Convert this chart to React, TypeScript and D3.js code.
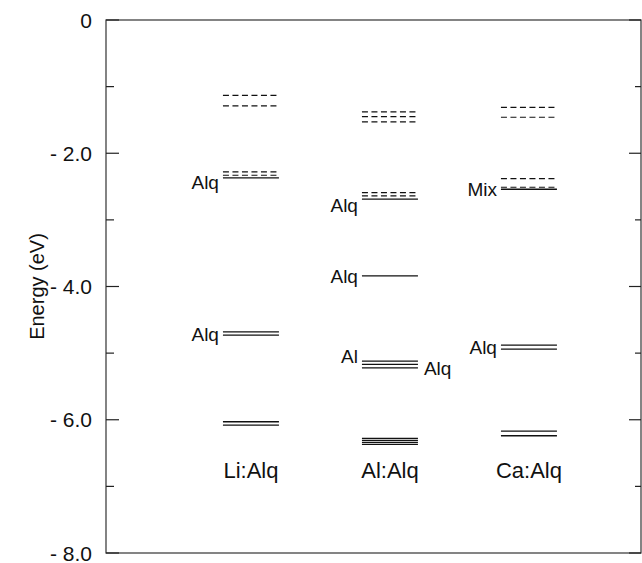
import * as d3 from "d3";

// energy levels (eV)
const columns = ["Li:Alq", "Al:Alq", "Ca:Alq"];

// unoccupied levels (dashed)
const liEmpty = [-1.13, -1.29, -2.28, -2.33];
const alEmpty = [-1.38, -1.45, -1.53, -2.59, -2.64];
const caEmpty = [-1.31, -1.46, -2.38, -2.51];

// occupied levels (solid)
const liFilled = [-2.37, -4.68, -4.73, -6.03, -6.08];
const alFilled = [-2.69, -3.84, -5.12, -5.17, -5.22, -6.28, -6.31, -6.34, -6.37];
const caFilled = [-2.54, -4.88, -4.94, -6.17, -6.24];

// level annotations: column, text, energy of text centre, side
const noteCols = ["Li:Alq", "Li:Alq", "Al:Alq", "Al:Alq", "Al:Alq", "Al:Alq", "Ca:Alq", "Ca:Alq"];
const noteTexts = ["Alq", "Alq", "Alq", "Alq", "Al", "Alq", "Mix", "Alq"];
const noteEnergy = [-2.43, -4.71, -2.78, -3.84, -5.04, -5.23, -2.54, -4.91];
const noteSide = ["left", "left", "left", "left", "left", "right", "left", "left"];

const majorTicks = [0, -2, -4, -6, -8];
const minorTicks = [-1, -3, -5, -7];

const W = 642;
const H = 563;
const left = 106;
const right = 641;
const top = 20;
const bottom = 553;
const halfLen = 28;
const font = "'Liberation Sans', Arial, Helvetica, sans-serif";

const App = () => {
  const y = d3.scaleLinear().domain([0, -8]).range([top, bottom]);
  const x = d3
    .scalePoint<string>()
    .domain(columns)
    .range([left, right])
    .padding(0.9245)
    .align(0.564);

  const empty = [liEmpty, alEmpty, caEmpty];
  const filled = [liFilled, alFilled, caFilled];

  const fmt = (v: number) => (v === 0 ? "0" : "- " + Math.abs(v).toFixed(1));

  return (
    <svg
      width={W}
      height={H}
      style={{ position: "absolute", left: 0, top: 0, background: "#fff" }}
      fontFamily={font}
    >
      {/* frame */}
      <rect
        x={left}
        y={top}
        width={right - left}
        height={bottom - top}
        fill="none"
        stroke="#333"
        strokeWidth={1.2}
      />

      {/* ticks */}
      {majorTicks.map((t) => (
        <g key={"M" + t}>
          <line x1={left} x2={left + 13} y1={y(t)} y2={y(t)} stroke="#222" strokeWidth={1.2} />
          <line x1={right - 12} x2={right} y1={y(t)} y2={y(t)} stroke="#222" strokeWidth={1.2} />
          <text x={92} y={y(t)} dy="0.36em" textAnchor="end" fontSize={21} fill="#111">
            {fmt(t)}
          </text>
        </g>
      ))}
      {minorTicks.map((t) => (
        <g key={"m" + t}>
          <line x1={left} x2={left + 8} y1={y(t)} y2={y(t)} stroke="#222" strokeWidth={1.2} />
          <line x1={right - 6} x2={right} y1={y(t)} y2={y(t)} stroke="#222" strokeWidth={1.2} />
        </g>
      ))}

      <text
        transform={`translate(37, ${(top + bottom) / 2}) rotate(-90)`}
        textAnchor="middle"
        dy="0.36em"
        fontSize={20}
        fill="#111"
      >
        Energy (eV)
      </text>

      {/* levels */}
      {columns.map((c, i) => {
        const cx = x(c) as number;
        return (
          <g key={c}>
            {empty[i].map((e, j) => (
              <line
                key={"e" + j}
                x1={cx - halfLen}
                x2={cx + halfLen}
                y1={y(e)}
                y2={y(e)}
                stroke="#111"
                strokeWidth={1.2}
                strokeDasharray="6,3.5"
              />
            ))}
            {filled[i].map((e, j) => (
              <line
                key={"f" + j}
                x1={cx - halfLen}
                x2={cx + halfLen}
                y1={y(e)}
                y2={y(e)}
                stroke="#111"
                strokeWidth={1.3}
              />
            ))}
            <text x={cx} y={470} dy="0.36em" textAnchor="middle" fontSize={22} fill="#111">
              {c}
            </text>
          </g>
        );
      })}

      {/* annotations */}
      {noteTexts.map((t, i) => {
        const cx = x(noteCols[i]) as number;
        const isLeft = noteSide[i] === "left";
        return (
          <text
            key={"n" + i}
            x={isLeft ? cx - halfLen - 4 : cx + halfLen + 6}
            y={y(noteEnergy[i])}
            dy="0.36em"
            textAnchor={isLeft ? "end" : "start"}
            fontSize={19}
            fill="#111"
          >
            {t}
          </text>
        );
      })}
    </svg>
  );
};

export default App;
